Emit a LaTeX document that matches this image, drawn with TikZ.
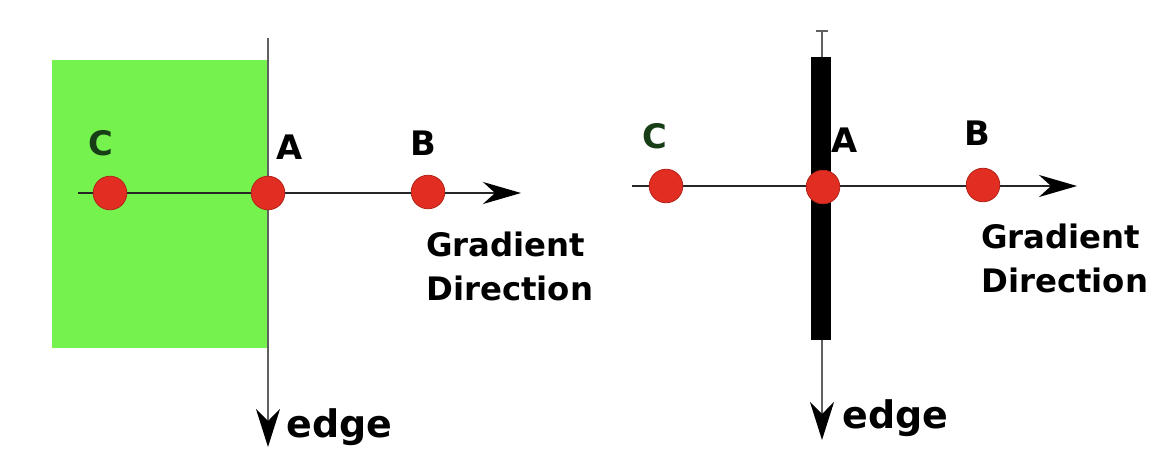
\documentclass[tikz,border=0pt]{standalone}
\usepackage{fontspec}
\setmainfont{DejaVu Sans}
\usetikzlibrary{arrows.meta}
\definecolor{regiongreen}{RGB}{118,242,78}
\definecolor{dotred}{RGB}{226,46,34}
\definecolor{labelgreen}{RGB}{24,62,24}

\begin{document}
\begin{tikzpicture}[
  x=0.025cm, y=-0.025cm,
  dot/.style={
    circle, fill=dotred, draw=dotred!80!black, line width=0.6pt,
    minimum size=0.84cm, inner sep=0pt
  },
  lbl/.style={font=\fontsize{24}{28}\selectfont\bfseries, inner sep=0pt},
  caption/.style={
    font=\fontsize{23}{31}\selectfont\bfseries, align=left,
    inner sep=0pt, anchor=north west
  },
  edgelbl/.style={font=\fontsize{27}{30}\selectfont\bfseries, inner sep=0pt, anchor=base west},
  axis/.style={line width=1.4pt, black!85, -{Stealth[length=9.5mm, width=5.5mm, inset=3mm, color=black]}},
  edgeaxis/.style={line width=1.4pt, gray!75!black, -{Stealth[length=9.5mm, width=6mm, inset=3mm, color=black]}}
]
\useasboundingbox (0,0) rectangle (1174,462);

% left: step edge
\fill[regiongreen] (52,60) rectangle (268,348);
\coordinate (topL) at (268,38);
\coordinate (botL) at (268,447);
\coordinate (startL) at (78,193);
\coordinate (tipL) at (521,193);
\draw[edgeaxis] (topL) -- (botL);
\draw[axis] (startL) -- (tipL);

\node[dot] (cL) at (110,193) {};
\node[dot] (aL) at (268,193) {};
\node[dot] (bL) at (428,192) {};

\node[lbl, text=labelgreen] (cLlbl) at (101,143) {C};
\node[lbl] (aLlbl) at (290,147) {A};
\node[lbl] (bLlbl) at (423,143) {B};
\node[caption] (gradL) at (426,232) {Gradient\\Direction};
\node[edgelbl] (edgeL) at (286,437) {edge};

% right: line edge
\coordinate (topR) at (822,30);
\coordinate (botR) at (822,440);
\coordinate (startR) at (632,186);
\coordinate (tipR) at (1077,186);
\draw[edgeaxis, {Bar[width=3mm]}-{Stealth[length=9.5mm, width=6mm, inset=3mm, color=black]}] (topR) -- (botR);
\fill[black] (811,57) rectangle (831,340);
\draw[axis] (startR) -- (tipR);

\node[dot] (cR) at (666,186) {};
\node[dot] (aR) at (823,187) {};
\node[dot] (bR) at (983,185) {};

\node[lbl, text=labelgreen] (cRlbl) at (655,136) {C};
\node[lbl] (aRlbl) at (845,140) {A};
\node[lbl] (bRlbl) at (977,133) {B};
\node[caption] (gradR) at (981,224) {Gradient\\Direction};
\node[edgelbl] (edgeR) at (842,428) {edge};

\end{tikzpicture}
\end{document}
